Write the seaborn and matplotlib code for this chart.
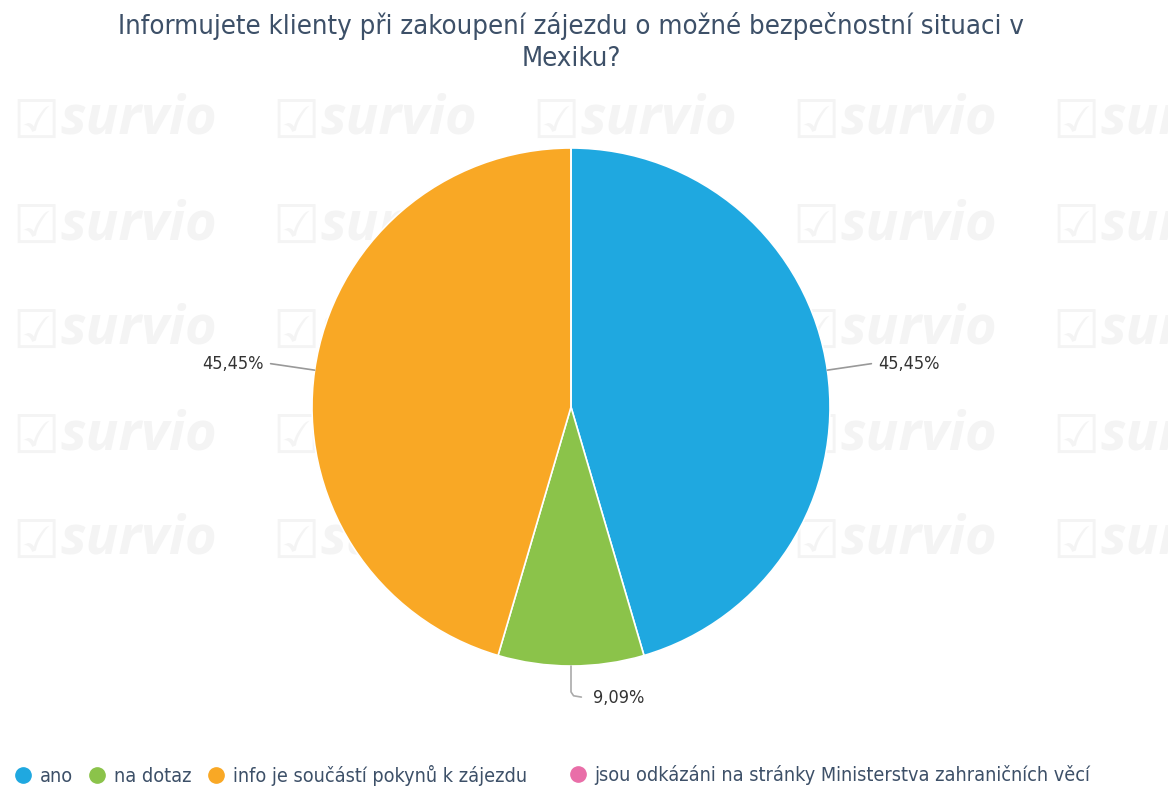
import numpy as np
import matplotlib
matplotlib.use("Agg")
import matplotlib.pyplot as plt
import seaborn as sns
from matplotlib.lines import Line2D

# data
categories = ["ano", "na dotaz", "info je součástí pokynů k zájezdu",
              "jsou odkázáni na stránky Ministerstva zahraničních věcí"]
shares = [45.45, 9.09, 45.45, 0.0]
label_text = ["45,45%", "9,09%", "45,45%", ""]
colors = ["#1fa8e0", "#8bc34a", "#f9a825", "#e96ea8"]
title = "Informujete klienty při zakoupení zájezdu o možné bezpečnostní situaci v\nMexiku?"

sns.set_style("white")
plt.rcParams['font.family'] = ['DejaVu Sans']
plt.rcParams['font.stretch'] = 'condensed'

W, H = 1168, 791
fig = plt.figure(figsize=(W / 100, H / 100), dpi=100)
fig.patch.set_facecolor("white")

# watermark layer (clipped band behind the pie)
wm_color = "#f4f4f4"
wm = fig.add_axes([0, 1 - 617 / H, 1, (617 - 85) / H])
wm.set_xlim(0, W)
wm.set_ylim(617, 85)
wm.axis("off")
for col_x in range(12, W, 260):
    for row_y in range(120, 700, 105):
        wm.text(col_x, row_y + 4, "☑", fontsize=38, color=wm_color,
                ha="left", va="center", fontweight="bold", clip_on=True,
                fontstretch="normal")
        wm.text(col_x + 48, row_y, "survio", fontsize=39, color=wm_color,
                ha="left", va="center", fontweight="bold", style="italic",
                family="Open Sans", clip_on=True)

# pie axes: one data unit = pie radius (259 px), centre at (571, 407)
R = 259
cx, cy = 571, 407
ax = fig.add_axes([0, 0, 1, 1])
ax.patch.set_alpha(0)
wedges, _ = ax.pie(shares, colors=colors, startangle=90, counterclock=False,
                   radius=1, wedgeprops=dict(edgecolor="white", linewidth=1.2))
ax.set_xlim(-cx / R, (W - cx) / R)
ax.set_ylim(-(H - cy) / R, cy / R)
ax.set_aspect("auto")
ax.axis("off")

# labels with connectors
for w, txt in zip(wedges, label_text):
    if not txt:
        continue
    mid = np.deg2rad((w.theta1 + w.theta2) / 2)
    ex, ey = np.cos(mid), np.sin(mid)
    if abs(ex) < 0.2:
        # bottom label: drop down, then bend right
        ax.plot([ex, ex, ex + 0.01, ex + 0.04], [ey, ey - 0.1, ey - 0.115, ey - 0.12],
                color="#aaaaaa", lw=1.2, solid_capstyle="round")
        ax.text(ex + 0.085, ey - 0.125, txt, fontsize=13, color="#333333",
                ha="left", va="center")
    else:
        side = np.sign(ex)
        lx, ly = ex + side * 0.17, ey + 0.025
        ax.plot([ex, lx], [ey, ly], color="#999999", lw=1.2)
        ax.text(lx + side * 0.025, ly, txt, fontsize=13, color="#333333",
                ha="left" if side > 0 else "right", va="center")

fig.text(571 / W, 1 - 42 / H, title, ha="center", va="center", fontsize=19.7,
         color="#3d5068", linespacing=1.3)

def handle(c):
    return Line2D([], [], marker="o", linestyle="", markersize=11,
                  markerfacecolor=c, markeredgecolor=c)

leg_kw = dict(frameon=False, handletextpad=0.25, handlelength=1.2,
              borderpad=0, borderaxespad=0, labelcolor="#3d5068",
              prop=dict(size=14.2, stretch="condensed"))
fig.legend([handle(c) for c in colors[:3]], categories[:3], ncol=3,
           loc="center left", bbox_to_anchor=(11 / W, 1 - 775 / H),
           columnspacing=0.65, **leg_kw)
fig.legend([handle(colors[3])], categories[3:], loc="center left",
           bbox_to_anchor=(566 / W, 1 - 775 / H), **leg_kw)

fig.savefig("out.png", dpi=100)
